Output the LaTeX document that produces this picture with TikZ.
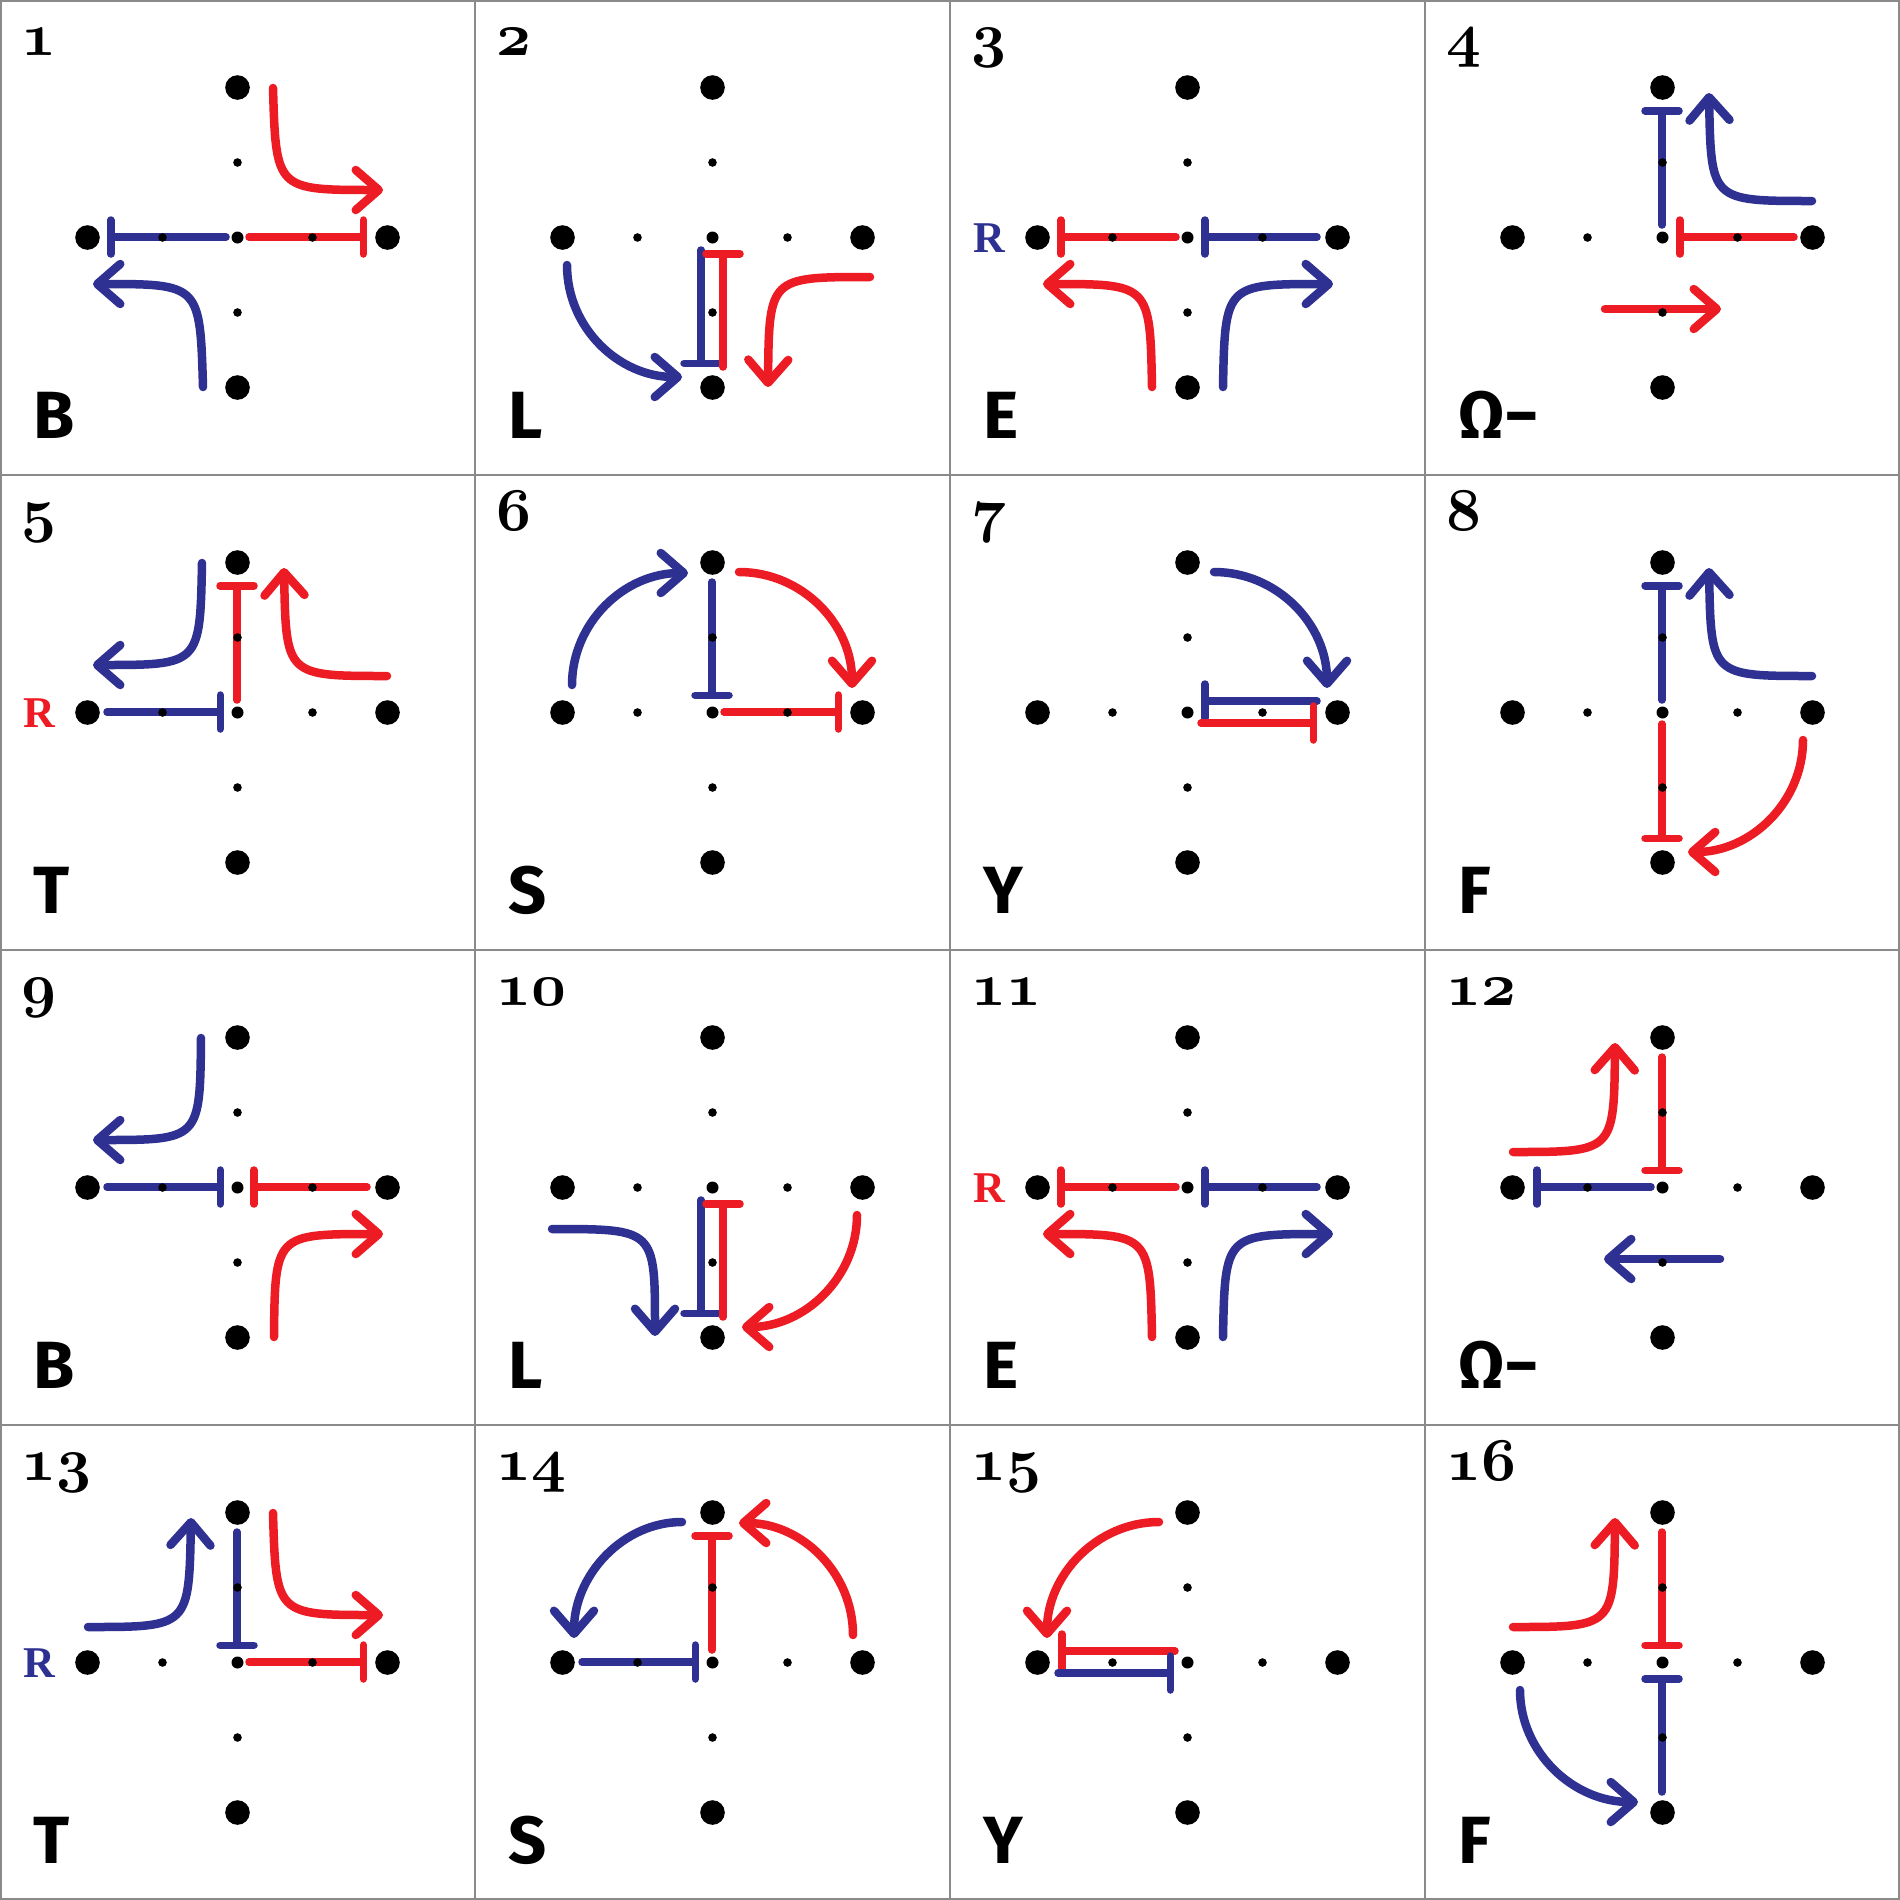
\documentclass[tikz,border=0pt]{standalone}
\usepackage{fontspec}
\usepackage{xcolor}
\usepackage{tikz}
\usetikzlibrary{arrows.meta}
\newfontfamily\handfont{Fira Sans}
\newfontfamily\tagfont{Liberation Serif}
\definecolor{QRed}{HTML}{ED1C24}
\definecolor{QBlue}{HTML}{2E3192}
\definecolor{RuleGray}{HTML}{8A8A8A}

% lattice of one panel: four big dots, four small dots, centre dot
\newcommand{\lattice}{%
  \foreach \p in {(237.5,87.5),(87.5,237.5),(387.5,237.5),(237.5,387.5)}
    \fill \p circle[radius=1.23mm];
  \foreach \p in {(237.5,162.5),(162.5,237.5),(312.5,237.5),(237.5,312.5)}
    \fill \p circle[radius=0.43mm];
  \fill (237.5,237.5) circle[radius=0.6mm];
}

\tikzset{
  flow/.style={line width=0.85mm, line cap=round, -{Straight Barb[length=2.3mm,width=4.0mm,round]}},
  tee/.style={line width=0.75mm, line cap=round, -{Bar[width=3.4mm,round]}},
  numlabel/.style={anchor=base west, inner sep=0pt, font=\fontsize{17}{18}\selectfont\boldmath},
  rlabel/.style={anchor=base, inner sep=0pt, font=\tagfont\bfseries\fontsize{12.5}{14}\selectfont},
  letterlabel/.style={anchor=base west, inner sep=0pt, font=\handfont\bfseries\fontsize{19}{23}\selectfont},
  gridline/.style={RuleGray, line width=0.2mm}
}

\begin{document}
\begin{tikzpicture}[x=0.1mm, y=-0.1mm]
  \useasboundingbox (0,0) rectangle (1900,1900);
  \fill[white] (0,0) rectangle (1900,1900);

  % 1
  \begin{scope}[shift={(0,0)}]
    \draw[tee,QBlue] (226,237) -- (107,237);
    \draw[tee,QRed] (249,237) -- (367,237);
    \draw[flow,QRed] (273,88) .. controls (276,190) and (276,190) .. (383,190);
    \draw[flow,QBlue] (203,387) .. controls (200,284) and (200,284) .. (93,284);
    \lattice
    \node[numlabel] at (21,55) {$\mathnormal{1}$};
    \node[letterlabel] at (33,438) {B};
  \end{scope}

  % 2
  \begin{scope}[shift={(475,0)}]
    \draw[tee,QBlue] (226,250) -- (226,367);
    \draw[tee,QRed] (248,367) -- (248,250);
    \draw[flow,QBlue] (92,265) .. controls (92,328) and (144,377) .. (207,377);
    \draw[flow,QRed] (395,277) .. controls (294,277) and (294,277) .. (293,387);
    \lattice
    \node[numlabel] at (21,55) {$\mathnormal{2}$};
    \node[letterlabel] at (33,438) {L};
  \end{scope}

  % 3
  \begin{scope}[shift={(950,0)}]
    \draw[tee,QRed] (226,237) -- (107,237);
    \draw[tee,QBlue] (367,237) -- (251,237);
    \draw[flow,QRed] (202,387) .. controls (200,284) and (200,284) .. (93,284);
    \draw[flow,QBlue] (273,387) .. controls (275,284) and (275,284) .. (383,284);
    \lattice
    \node[numlabel] at (21,55) {$\mathnormal{3}$};
    \node[rlabel,QBlue] at (39,252) {R};
    \node[letterlabel] at (33,438) {E};
  \end{scope}

  % 4
  \begin{scope}[shift={(1425,0)}]
    \draw[tee,QBlue] (237,225) -- (237,107);
    \draw[tee,QRed] (369,237) -- (251,237);
    \draw[flow,QBlue] (387,201) .. controls (286,201) and (286,201) .. (284,93);
    \draw[flow,QRed] (180,309) -- (296,309);
    \lattice
    \node[numlabel] at (21,55) {$\mathnormal{4}$};
    \node[letterlabel] at (33,438) {Ω−};
  \end{scope}

  % 5
  \begin{scope}[shift={(0,475)}]
    \draw[tee,QRed] (237,225) -- (237,107);
    \draw[tee,QBlue] (107,237) -- (224,237);
    \draw[flow,QBlue] (202,88) .. controls (200,190) and (200,190) .. (93,190);
    \draw[flow,QRed] (387,201) .. controls (286,201) and (286,201) .. (284,93);
    \lattice
    \node[numlabel] at (21,55) {$\mathnormal{5}$};
    \node[rlabel,QRed] at (39,252) {R};
    \node[letterlabel] at (33,438) {T};
  \end{scope}

  % 6
  \begin{scope}[shift={(475,475)}]
    \draw[flow,QBlue] (97,210) .. controls (97,148) and (149,98) .. (213,98);
    \draw[tee,QBlue] (237,107) -- (237,224);
    \draw[flow,QRed] (264,97) .. controls (327,97) and (377,149) .. (377,213);
    \draw[tee,QRed] (249,237) -- (367,237);
    \lattice
    \node[numlabel] at (21,55) {$\mathnormal{6}$};
    \node[letterlabel] at (33,438) {S};
  \end{scope}

  % 7
  \begin{scope}[shift={(950,475)}]
    \draw[flow,QBlue] (264,97) .. controls (327,97) and (377,149) .. (377,213);
    \draw[tee,QBlue] (367,226) -- (251,226);
    \draw[tee,QRed] (251,248) -- (367,248);
    \lattice
    \node[numlabel] at (21,55) {$\mathnormal{7}$};
    \node[letterlabel] at (33,438) {Y};
  \end{scope}

  % 8
  \begin{scope}[shift={(1425,475)}]
    \draw[tee,QBlue] (237,225) -- (237,107);
    \draw[flow,QBlue] (387,201) .. controls (286,201) and (286,201) .. (284,93);
    \draw[tee,QRed] (237,249) -- (237,367);
    \draw[flow,QRed] (378,265) .. controls (378,327) and (326,377) .. (263,377);
    \lattice
    \node[numlabel] at (21,55) {$\mathnormal{8}$};
    \node[letterlabel] at (33,438) {F};
  \end{scope}

  % 9
  \begin{scope}[shift={(0,950)}]
    \draw[flow,QBlue] (201,88) .. controls (200,190) and (200,190) .. (93,190);
    \draw[tee,QBlue] (107,237) -- (224,237);
    \draw[tee,QRed] (367,237) -- (250,237);
    \draw[flow,QRed] (274,387) .. controls (275,284) and (275,284) .. (383,284);
    \lattice
    \node[numlabel] at (21,55) {$\mathnormal{9}$};
    \node[letterlabel] at (33,438) {B};
  \end{scope}

  % 10
  \begin{scope}[shift={(475,950)}]
    \draw[flow,QBlue] (77,279) .. controls (180,279) and (180,279) .. (180,386);
    \draw[tee,QBlue] (226,250) -- (226,367);
    \draw[tee,QRed] (248,367) -- (248,250);
    \draw[flow,QRed] (382,265) .. controls (382,327) and (330,377) .. (267,377);
    \lattice
    \node[numlabel] at (21,55) {$\mathnormal{10}$};
    \node[letterlabel] at (33,438) {L};
  \end{scope}

  % 11
  \begin{scope}[shift={(950,950)}]
    \draw[tee,QRed] (226,237) -- (107,237);
    \draw[tee,QBlue] (367,237) -- (251,237);
    \draw[flow,QRed] (202,387) .. controls (200,284) and (200,284) .. (93,284);
    \draw[flow,QBlue] (273,387) .. controls (275,284) and (275,284) .. (383,284);
    \lattice
    \node[numlabel] at (21,55) {$\mathnormal{11}$};
    \node[rlabel,QRed] at (39,252) {R};
    \node[letterlabel] at (33,438) {E};
  \end{scope}

  % 12
  \begin{scope}[shift={(1425,950)}]
    \draw[flow,QRed] (88,202) .. controls (189,202) and (189,202) .. (190,93);
    \draw[tee,QRed] (237,107) -- (237,224);
    \draw[tee,QBlue] (226,237) -- (108,237);
    \draw[flow,QBlue] (295,309) -- (179,309);
    \lattice
    \node[numlabel] at (21,55) {$\mathnormal{12}$};
    \node[letterlabel] at (33,438) {Ω−};
  \end{scope}

  % 13
  \begin{scope}[shift={(0,1425)}]
    \draw[flow,QBlue] (88,202) .. controls (189,202) and (189,202) .. (191,93);
    \draw[tee,QBlue] (237,107) -- (237,224);
    \draw[flow,QRed] (273,88) .. controls (276,190) and (276,190) .. (383,190);
    \draw[tee,QRed] (249,237) -- (367,237);
    \lattice
    \node[numlabel] at (21,55) {$\mathnormal{13}$};
    \node[rlabel,QBlue] at (39,252) {R};
    \node[letterlabel] at (33,438) {T};
  \end{scope}

  % 14
  \begin{scope}[shift={(475,1425)}]
    \draw[flow,QBlue] (207,97) .. controls (148,97) and (99,150) .. (99,213);
    \draw[tee,QRed] (237,225) -- (237,107);
    \draw[tee,QBlue] (107,237) -- (224,237);
    \draw[flow,QRed] (378,210) .. controls (378,148) and (327,98) .. (264,98);
    \lattice
    \node[numlabel] at (21,55) {$\mathnormal{14}$};
    \node[letterlabel] at (33,438) {S};
  \end{scope}

  % 15
  \begin{scope}[shift={(950,1425)}]
    \draw[flow,QRed] (209,97) .. controls (147,97) and (97,150) .. (97,213);
    \draw[tee,QRed] (225,226) -- (108,226);
    \draw[tee,QBlue] (108,248) -- (224,248);
    \lattice
    \node[numlabel] at (21,55) {$\mathnormal{15}$};
    \node[letterlabel] at (33,438) {Y};
  \end{scope}

  % 16
  \begin{scope}[shift={(1425,1425)}]
    \draw[flow,QRed] (88,202) .. controls (189,202) and (189,202) .. (190,93);
    \draw[tee,QRed] (237,107) -- (237,224);
    \draw[tee,QBlue] (237,367) -- (237,250);
    \draw[flow,QBlue] (95,265) .. controls (95,327) and (148,377) .. (213,377);
    \lattice
    \node[numlabel] at (21,55) {$\mathnormal{16}$};
    \node[letterlabel] at (33,438) {F};
  \end{scope}

  % panel rules
  \foreach \k in {475,950,1425} {
    \draw[gridline] (\k,0) -- (\k,1900);
    \draw[gridline] (0,\k) -- (1900,\k);
  }
  \draw[gridline] (1,1) rectangle (1899,1899);
\end{tikzpicture}
\end{document}
